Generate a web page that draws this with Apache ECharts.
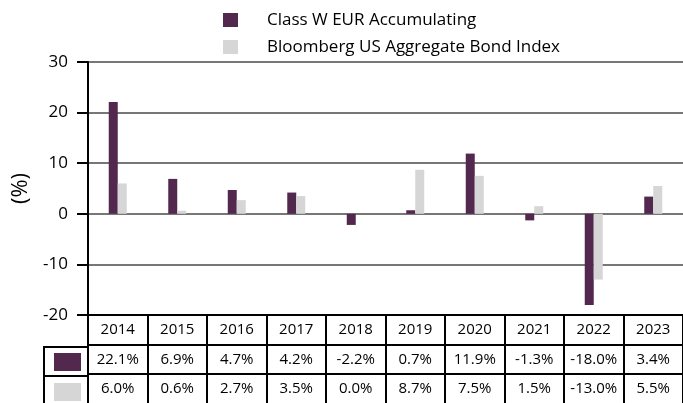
<!DOCTYPE html>
<html lang="en">
<head>
<meta charset="UTF-8">
<title>Calendar year performance</title>
<script src="https://cdn.jsdelivr.net/npm/echarts@6/dist/echarts.min.js"></script>
<style>
  html, body { margin: 0; padding: 0; background: #fff; }
  #main { width: 683px; height: 403px; }
</style>
</head>
<body>
<div id="main"></div>
<script>
// data
var years = ['2014', '2015', '2016', '2017', '2018', '2019', '2020', '2021', '2022', '2023'];
var fundName = 'Class W EUR Accumulating';
var benchName = 'Bloomberg US Aggregate Bond Index';
var fundValues = [22.1, 6.9, 4.7, 4.2, -2.2, 0.7, 11.9, -1.3, -18.0, 3.4];
var benchValues = [6.0, 0.6, 2.7, 3.5, 0.0, 8.7, 7.5, 1.5, -13.0, 5.5];
var yTicks = [-20, -10, 0, 10, 20, 30];

var purple = '#53284f';
var grey = '#d6d6d6';
var font = '"Open Sans", "Liberation Sans", sans-serif';

function pct(v) { return v.toFixed(1) + '%'; }

var myChart = echarts.init(document.getElementById('main'));

// table row axes: each row is a category axis pushed down with offset
function rowAxis(data, offset, lh) {
    return {
        type: 'category',
        position: 'bottom',
        offset: offset,
        data: data,
        axisLine: { show: true, onZero: false, lineStyle: { color: '#000', width: 2 } },
        axisTick: { show: false },
        axisLabel: { interval: 0, margin: 0, lineHeight: lh, fontSize: 15, color: '#000', fontFamily: font },
        splitLine: { show: false }
    };
}

var option = {
    animation: false,
    backgroundColor: '#fff',
    textStyle: { fontFamily: font },
    legend: {
        orient: 'vertical',
        left: 223,
        top: 10,
        padding: 0,
        itemWidth: 15,
        itemHeight: 14,
        itemGap: 7,
        icon: 'rect',
        data: [fundName, benchName],
        textStyle: { fontSize: 17, color: '#000', lineHeight: 20, padding: [0, 0, 0, 24], fontFamily: font }
    },
    grid: { left: 88, right: 0, top: 62, bottom: 86, containLabel: false },
    xAxis: [
        {
            type: 'category',
            position: 'bottom',
            data: years,
            axisLine: { show: true, onZero: false, lineStyle: { color: '#000', width: 2 } },
            axisTick: { show: true, interval: 0, inside: false, length: 90, lineStyle: { color: '#000', width: 2 } },
            axisLabel: { interval: 0, margin: 0, lineHeight: 29, fontSize: 15, color: '#000', fontFamily: font },
            splitLine: { show: false }
        },
        rowAxis(fundValues.map(pct), 30, 29),
        rowAxis(benchValues.map(pct), 59, 29)
    ],
    yAxis: {
        type: 'value',
        min: yTicks[0],
        max: yTicks[yTicks.length - 1],
        interval: 10,
        name: '(%)',
        nameLocation: 'middle',
        nameRotate: 90,
        nameGap: 56,
        nameTextStyle: { fontSize: 22, color: '#000', fontFamily: font },
        axisLine: { show: true, lineStyle: { color: '#000', width: 2 } },
        axisTick: { show: true, length: 11, lineStyle: { color: '#000', width: 2 } },
        axisLabel: { fontSize: 17, color: '#000', margin: 20, fontFamily: font },
        splitLine: { show: true, lineStyle: { color: '#777', width: 2 } }
    },
    series: [
        {
            name: fundName,
            type: 'bar',
            xAxisIndex: 0,
            data: fundValues,
            barWidth: 9,
            barGap: '0%',
            itemStyle: { color: purple }
        },
        {
            name: benchName,
            type: 'bar',
            xAxisIndex: 0,
            data: benchValues,
            barWidth: 9,
            barGap: '0%',
            itemStyle: { color: grey }
        }
    ],
    // legend column of the data table
    graphic: [
        { type: 'line', shape: { x1: 44, y1: 347, x2: 88, y2: 347 }, style: { stroke: '#000', lineWidth: 2 } },
        { type: 'line', shape: { x1: 44, y1: 376, x2: 88, y2: 376 }, style: { stroke: '#000', lineWidth: 2 } },
        { type: 'line', shape: { x1: 44, y1: 346, x2: 44, y2: 403 }, style: { stroke: '#000', lineWidth: 2 } },
        { type: 'rect', shape: { x: 54, y: 353, width: 27, height: 18 }, style: { fill: purple } },
        { type: 'rect', shape: { x: 54, y: 383, width: 27, height: 18 }, style: { fill: grey } }
    ]
};

myChart.setOption(option);
</script>
</body>
</html>
